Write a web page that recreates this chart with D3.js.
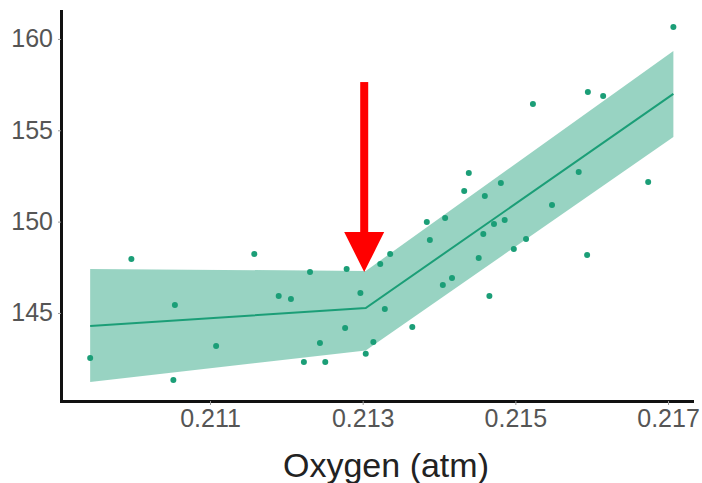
<!DOCTYPE html>
<html>
<head>
<meta charset="utf-8">
<script src="https://cdn.jsdelivr.net/npm/d3@7"></script>
<style>
  body { margin: 0; background: #fff; }
  svg { display: block; font-family: 'Liberation Sans', Arial, sans-serif; }
</style>
</head>
<body>
<div id="chart"></div>
<script>
// observed points
const oxygen = [
  0.20943, 0.20997, 0.21054, 0.21052, 0.21108, 0.21158, 0.21231, 0.21279, 0.21190,
  0.21206, 0.21297, 0.21329, 0.21277, 0.21244, 0.21314, 0.21304, 0.21223, 0.21251,
  0.21365, 0.21323, 0.21336, 0.21384, 0.21388, 0.21408, 0.21405, 0.21523, 0.21439,
  0.21433, 0.21481, 0.21460, 0.21583, 0.21548, 0.21472, 0.21486, 0.21458, 0.21514,
  0.21498, 0.21452, 0.21417, 0.21466, 0.21594, 0.21707, 0.21595, 0.21615, 0.21674
]
const response = [
  142.54, 147.96, 145.44, 141.33, 143.19, 148.23, 147.24, 147.41, 145.93,
  145.77, 146.09, 145.22, 144.18, 143.36, 143.41, 142.76, 142.32, 142.32,
  144.23, 147.68, 148.23, 149.98, 149.00, 150.20, 146.53, 156.44, 152.66,
  151.68, 152.12, 151.40, 152.72, 150.91, 149.87, 150.09, 149.32, 149.05,
  148.50, 148.01, 146.92, 145.93, 148.17, 160.65, 157.10, 156.88, 152.17
]

// segmented fit with confidence band
const fitX = [0.20943, 0.21304, 0.21707]
const fitY = [144.29, 145.27, 156.99]
const bandLow = [141.22, 142.95, 154.63]
const bandHigh = [147.41, 147.30, 159.34]

const xTicks = [0.211, 0.213, 0.215, 0.217]
const yTicks = [145, 150, 155, 160]
const xTitle = 'Oxygen (atm)'

// annotation arrow
const arrowX = 0.21302
const arrowTop = 157.64
const arrowTip = 147.24

const width = 702
const height = 483
const margin = { left: 61, right: 692, top: 11, bottom: 401 }

const teal = '#1b9e77'

const svg = d3
  .select('#chart')
  .append('svg')
  .attr('width', width)
  .attr('height', height)

const x = d3.scaleLinear().domain([0.209048, 0.217314]).range([margin.left, margin.right])
const y = d3.scaleLinear().domain([140.18, 161.53]).range([margin.bottom, margin.top])

const points = oxygen.map((d, i) => ({ x: d, y: response[i] }))
const fit = fitX.map((d, i) => ({ x: d, y: fitY[i], lo: bandLow[i], hi: bandHigh[i] }))

// band
const area = d3
  .area()
  .x(d => x(d.x))
  .y0(d => y(d.lo))
  .y1(d => y(d.hi))

svg
  .append('path')
  .datum(fit)
  .attr('d', area)
  .attr('fill', teal)
  .attr('fill-opacity', 0.45)

// fitted line
const line = d3
  .line()
  .x(d => x(d.x))
  .y(d => y(d.y))

svg
  .append('path')
  .datum(fit)
  .attr('d', line)
  .attr('fill', 'none')
  .attr('stroke', teal)
  .attr('stroke-width', 2)

// points
svg
  .selectAll('.pt')
  .data(points)
  .enter()
  .append('circle')
  .attr('class', 'pt')
  .attr('cx', d => x(d.x))
  .attr('cy', d => y(d.y))
  .attr('r', 3)
  .attr('fill', teal)

// axes
const xAxis = d3
  .axisBottom(x)
  .tickValues(xTicks)
  .tickFormat(d3.format('.3f'))
  .tickSize(4)
  .tickSizeOuter(0)
  .tickPadding(4)

const yAxis = d3
  .axisLeft(y)
  .tickValues(yTicks)
  .tickFormat(d3.format('d'))
  .tickSize(3)
  .tickSizeOuter(0)
  .tickPadding(5)

const gx = svg
  .append('g')
  .attr('transform', 'translate(0,' + margin.bottom + ')')
  .call(xAxis)

const gy = svg
  .append('g')
  .attr('transform', 'translate(' + margin.left + ',0)')
  .call(yAxis)

svg.selectAll('.domain')
  .attr('stroke', '#111')
  .attr('stroke-width', 3)
  .attr('stroke-linecap', 'square')

svg.selectAll('.tick line').attr('stroke', '#999')

svg.selectAll('.tick text')
  .attr('fill', '#555')
  .style('font-size', '25px')
  .style('font-family', "'Liberation Sans', Arial, sans-serif")

svg
  .append('text')
  .attr('x', 386)
  .attr('y', 477)
  .attr('text-anchor', 'middle')
  .attr('fill', '#222')
  .style('font-size', '34px')
  .text(xTitle)

// red arrow
const ax = x(arrowX)
const headLen = 40
const headHalf = 20
const shaft = 8
svg
  .append('rect')
  .attr('x', ax - shaft / 2)
  .attr('y', y(arrowTop))
  .attr('width', shaft)
  .attr('height', y(arrowTip) - headLen - y(arrowTop))
  .attr('fill', 'red')

svg
  .append('path')
  .attr('d', d3.line()([
    [ax - headHalf, y(arrowTip) - headLen],
    [ax + headHalf, y(arrowTip) - headLen],
    [ax, y(arrowTip)]
  ]) + 'Z')
  .attr('fill', 'red')
</script>
</body>
</html>
